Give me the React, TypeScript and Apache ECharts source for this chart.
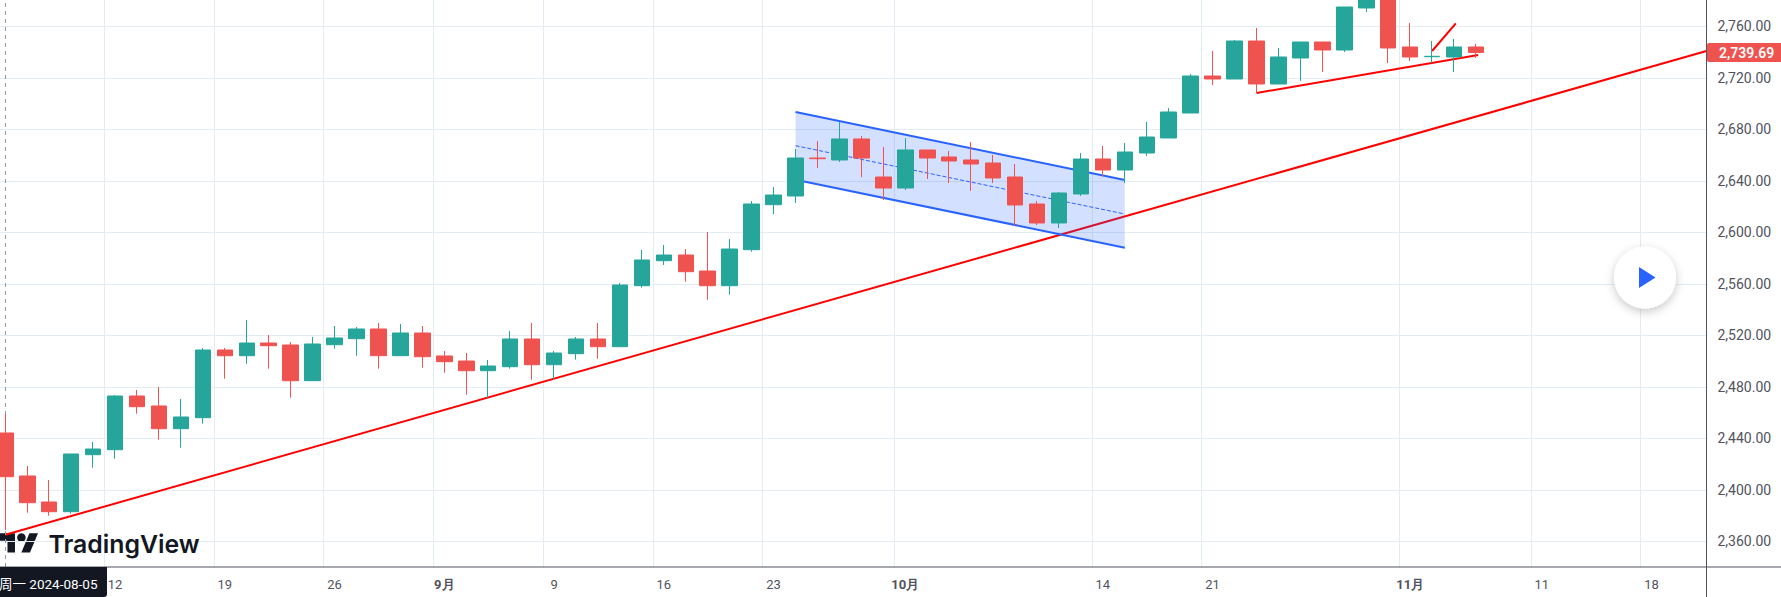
import React, { useEffect, useRef } from "react";
import * as echarts from "echarts";

const dates = [
  "2024-08-05","2024-08-06","2024-08-07","2024-08-08","2024-08-09",
  "2024-08-12","2024-08-13","2024-08-14","2024-08-15","2024-08-16",
  "2024-08-19","2024-08-20","2024-08-21","2024-08-22","2024-08-23",
  "2024-08-26","2024-08-27","2024-08-28","2024-08-29","2024-08-30",
  "2024-09-02","2024-09-03","2024-09-04","2024-09-05","2024-09-06",
  "2024-09-09","2024-09-10","2024-09-11","2024-09-12","2024-09-13",
  "2024-09-16","2024-09-17","2024-09-18","2024-09-19","2024-09-20",
  "2024-09-23","2024-09-24","2024-09-25","2024-09-26","2024-09-27",
  "2024-09-30","2024-10-01","2024-10-02","2024-10-03","2024-10-04",
  "2024-10-07","2024-10-08","2024-10-09","2024-10-10","2024-10-11",
  "2024-10-14","2024-10-15","2024-10-16","2024-10-17","2024-10-18",
  "2024-10-21","2024-10-22","2024-10-23","2024-10-24","2024-10-25",
  "2024-10-28","2024-10-29","2024-10-30","2024-10-31","2024-11-01",
  "2024-11-04","2024-11-05","2024-11-06","2024-11-07","2024-11-08",
  "2024-11-11","2024-11-12","2024-11-13","2024-11-14","2024-11-15",
  "2024-11-18","2024-11-19","2024-11-20",
];

const timeTicks: Record<string, string> = {
  "2024-08-12": "12", "2024-08-19": "19", "2024-08-26": "26", "2024-09-02": "9月",
  "2024-09-09": "9", "2024-09-16": "16", "2024-09-23": "23", "2024-10-01": "10月",
  "2024-10-14": "14", "2024-10-21": "21", "2024-11-01": "11月", "2024-11-11": "11",
  "2024-11-18": "18",
};

const priceTicks = [2360, 2400, 2440, 2480, 2520, 2560, 2600, 2640, 2680, 2720, 2760];

const opens = [
  2444.12,2410.72,2390.53,2383.0,2427.27,2431.15,2472.86,2465.09,2447.46,2456.0,
  2508.58,2504.16,2514.02,2512.47,2484.74,2512.7,2517.36,2524.9,2504.16,2521.79,
  2503.93,2500.04,2492.51,2495.61,2517.13,2497.17,2505.71,2517.13,2511.15,2558.53,
  2577.94,2582.37,2569.94,2558.53,2586.49,2621.44,2628.2,2657.71,2656.16,2672.47,
  2642.95,2634.41,2663.93,2658.49,2656.16,2653.83,2642.95,2621.98,2607.23,2629.75,
  2656.93,2648.39,2661.59,2673.25,2692.66,2721.4,2719.07,2748.59,2715.19,2735.38,
  2747.81,2741.59,2774.22,2788.2,2743.93,2736.4,2736.16,2743.93,
];
const closes = [
  2410.18,2389.98,2383.0,2427.81,2431.69,2472.86,2464.55,2447.46,2456.55,2508.58,
  2504.16,2514.02,2511.93,2484.74,2513.25,2517.91,2524.9,2504.16,2521.79,2503.38,
  2499.5,2492.51,2496.16,2517.13,2497.17,2506.25,2517.13,2511.15,2559.07,2578.49,
  2582.37,2569.4,2558.53,2587.03,2621.98,2628.97,2657.71,2657.17,2672.47,2657.71,
  2634.41,2663.93,2657.71,2655.38,2653.05,2642.18,2621.21,2607.23,2630.53,2656.93,
  2648.39,2662.37,2674.02,2693.44,2721.4,2719.07,2748.59,2715.19,2736.16,2747.81,
  2741.59,2774.99,2784.31,2743.15,2736.16,2736.7,2743.93,2739.69,
];
const lows = [
  2368.78,2382.22,2379.89,2381.44,2417.17,2424.16,2459.11,2438.92,2432.7,2451.34,
  2486.29,2497.94,2494.06,2471.54,2484.74,2509.6,2504.16,2494.06,2504.16,2494.84,
  2490.95,2473.87,2471.54,2494.06,2485.52,2486.06,2501.05,2501.83,2511.15,2556.98,
  2574.6,2561.63,2547.65,2551.54,2584.93,2614.22,2622.76,2649.94,2654.6,2642.95,
  2625.09,2632.86,2641.4,2638.29,2632.08,2638.29,2604.9,2605.67,2603.34,2628.2,
  2643.73,2638.29,2659.26,2673.25,2692.66,2714.41,2719.07,2708.2,2715.19,2717.52,
  2724.51,2740.04,2771.11,2731.5,2733.05,2731.5,2724.51,2735.38,
];
const highs = [
  2458.88,2418.49,2407.61,2428.0,2437.13,2473.63,2477.52,2479.85,2470.53,2510.14,
  2510.14,2531.89,2520.24,2514.8,2518.68,2527.23,2526.45,2529.56,2528.78,2527.23,
  2507.81,2506.25,2500.82,2523.34,2529.56,2507.81,2518.68,2529.56,2560.62,2586.25,
  2590.14,2587.03,2600.24,2594.8,2624.31,2635.19,2664.7,2670.92,2685.67,2674.8,
  2666.26,2673.25,2663.93,2663.15,2670.14,2660.04,2653.05,2624.31,2631.3,2661.59,
  2667.03,2669.36,2685.67,2696.55,2722.95,2740.82,2749.36,2758.68,2743.15,2747.81,
  2747.81,2774.99,2788.0,2795.0,2762.57,2748.59,2750.14,2746.26,
];

// Drawings: [bar position, price]
const longTrend = [[0, 2365.1], [77.5, 2740.8]];
const shortTrend = [[57, 2708.2], [67.1, 2737.71]];
const tickStroke = [[65, 2740.82], [66.08, 2762.33]];
const channelUpper = [[36, 2693.44], [51, 2640.62]];
const channelLower = [[36, 2640.86], [51, 2588.04]];
const channelMiddle = [[36, 2667.27], [51, 2614.22]];
const lastPrice = 2739.69;
const crosshairDate = "2024-08-05";
const crosshairLabel = "周一 2024-08-05";

const GREEN = "#26a69a";
const RED = "#ef5350";
const GRID = "#e3ecf2";
const AXIS = "#50535e";
const TEXT = "#50535e";
const DARK = "#131722";
const FONT = "Roboto, sans-serif";

const isTimeTick = (i: number) => timeTicks[dates[i]] !== undefined;

const trendSeries = (data: number[][], color: string, width: number, z: number, type = "solid") => ({
  type: "line",
  xAxisIndex: 1,
  data,
  showSymbol: false,
  silent: true,
  z,
  lineStyle: { color, width, type },
});

export default function App() {
  const ref = useRef<HTMLDivElement>(null);

  useEffect(() => {
    document.body.style.margin = "0";
    document.body.style.overflow = "hidden";
    const chart = echarts.init(ref.current!, undefined, { renderer: "svg" });
    const candles = opens.map((o, i) => [o, closes[i], lows[i], highs[i]]);

    chart.setOption({
      animation: false,
      backgroundColor: "#ffffff",
      textStyle: { fontFamily: FONT },
      grid: { left: -5.645, width: 1712.14, top: 0, height: 567, outerBoundsMode: "none" },
      xAxis: [
        {
          type: "category",
          data: dates,
          boundaryGap: true,
          axisLine: { show: false },
          axisTick: { show: false },
          splitLine: { show: true, interval: (i: number) => isTimeTick(i), lineStyle: { color: GRID, width: 1 } },
          axisLabel: {
            interval: (i: number) => isTimeTick(i),
            margin: 11,
            formatter: (v: string) => {
              const t = timeTicks[v];
              return t && t.includes("月") ? `{m|${t}}` : t ?? "";
            },
            color: TEXT,
            fontSize: 13,
            fontFamily: FONT,
            rich: { m: { fontWeight: 700, fontSize: 13, color: TEXT, fontFamily: FONT } },
          },
        },
        { type: "value", min: -0.5, max: 77.5, show: false, splitLine: { show: false } },
      ],
      yAxis: {
        type: "value",
        position: "right",
        min: 2340.04,
        max: 2780.43,
        axisLine: { show: false },
        axisTick: { show: false, customValues: priceTicks },
        splitLine: { show: true, lineStyle: { color: GRID, width: 1 } },
        axisLabel: {
          customValues: priceTicks,
          margin: 11,
          color: TEXT,
          fontSize: 14,
          fontFamily: FONT,
          formatter: (v: number) =>
            v.toLocaleString("en-US", { minimumFractionDigits: 2, maximumFractionDigits: 2 }),
        },
      },
      series: [
        trendSeries(longTrend, "#ff0000", 2, 2),
        trendSeries(shortTrend, "#ff0000", 2, 2),
        trendSeries(tickStroke, "#ff0000", 2, 2),
        {
          type: "custom",
          xAxisIndex: 1,
          silent: true,
          z: 3,
          data: [0],
          renderItem: (_p: unknown, api: any) => {
            const pts = [channelUpper[0], channelUpper[1], channelLower[1], channelLower[0]].map((p) =>
              api.coord(p)
            );
            return {
              type: "polygon",
              shape: { points: pts },
              style: { fill: "rgba(41,98,255,0.2)" },
            };
          },
        },
        trendSeries(channelUpper, "#2962ff", 2, 4),
        trendSeries(channelLower, "#2962ff", 2, 4),
        trendSeries(channelMiddle, "#2962ff", 1, 4, "dashed"),
        {
          type: "candlestick",
          data: candles,
          barWidth: 16,
          z: 6,
          itemStyle: {
            color: GREEN,
            color0: RED,
            borderColor: GREEN,
            borderColor0: RED,
            borderWidth: 1,
          },
          markLine: {
            silent: true,
            symbol: "none",
            animation: false,
            label: { show: false },
            data: [
              {
                xAxis: crosshairDate,
                lineStyle: { color: "#9598a1", width: 1, type: [4, 4] },
              },
            ],
          },
        },
      ],
      graphic: [
        { type: "line", silent: true, z: 20, shape: { x1: 0, y1: 567, x2: 1781, y2: 567 }, style: { stroke: AXIS, lineWidth: 1 } },
        { type: "line", silent: true, z: 20, shape: { x1: 1706.5, y1: 0, x2: 1706.5, y2: 597 }, style: { stroke: AXIS, lineWidth: 1 } },
        // last price tag
        {
          type: "rect",
          silent: true,
          z: 25,
          shape: { x: 1707, y: 43, width: 74, height: 19, r: [2, 0, 0, 2] },
          style: { fill: RED },
        },
        {
          type: "text",
          silent: true,
          z: 26,
          x: 1719,
          y: 52.5,
          style: {
            text: lastPrice.toLocaleString("en-US", { minimumFractionDigits: 2 }),
            fill: "#ffffff",
            font: "600 14px Roboto, sans-serif",
            textVerticalAlign: "middle",
          },
        },
        // crosshair date tag
        {
          type: "rect",
          silent: true,
          z: 25,
          shape: { x: -10, y: 567, width: 117, height: 30, r: [0, 0, 3, 0] },
          style: { fill: DARK },
        },
        {
          type: "text",
          silent: true,
          z: 26,
          x: -1,
          y: 584,
          style: {
            text: crosshairLabel,
            fill: "#ffffff",
            font: "13.5px Roboto, 'Noto Sans CJK SC', sans-serif",
            textVerticalAlign: "middle",
          },
        },
        // TradingView mark
        {
          type: "group",
          x: 0,
          y: 529,
          scaleX: 1.07,
          scaleY: 1.07,
          z: 30,
          silent: true,
          children: [
            { type: "polygon", shape: { points: [[14, 22], [7, 22], [7, 11], [0, 11], [0, 4], [14, 4]] }, style: { fill: DARK } },
            { type: "circle", shape: { cx: 20, cy: 8, r: 4 }, style: { fill: DARK } },
            { type: "polygon", shape: { points: [[28, 22], [20, 22], [27.5, 4], [35.5, 4]] }, style: { fill: DARK } },
          ],
        },
        {
          type: "text",
          x: 48.5,
          y: 544,
          z: 30,
          silent: true,
          style: {
            text: "TradingView",
            fill: DARK,
            font: "600 24.8px Inter, sans-serif",
            textVerticalAlign: "middle",
          },
        },
        // replay button
        {
          type: "circle",
          silent: true,
          z: 30,
          shape: { cx: 1645, cy: 277.5, r: 31 },
          style: { fill: "#ffffff", shadowBlur: 10, shadowColor: "rgba(0,0,0,0.22)", shadowOffsetY: 3 },
        },
        {
          type: "polygon",
          silent: true,
          z: 31,
          shape: { points: [[1639, 267], [1655.5, 277.5], [1639, 288]] },
          style: { fill: "#2962ff" },
        },
      ],
    });

    return () => chart.dispose();
  }, []);

  return <div ref={ref} style={{ width: 1781, height: 597 }} />;
}
